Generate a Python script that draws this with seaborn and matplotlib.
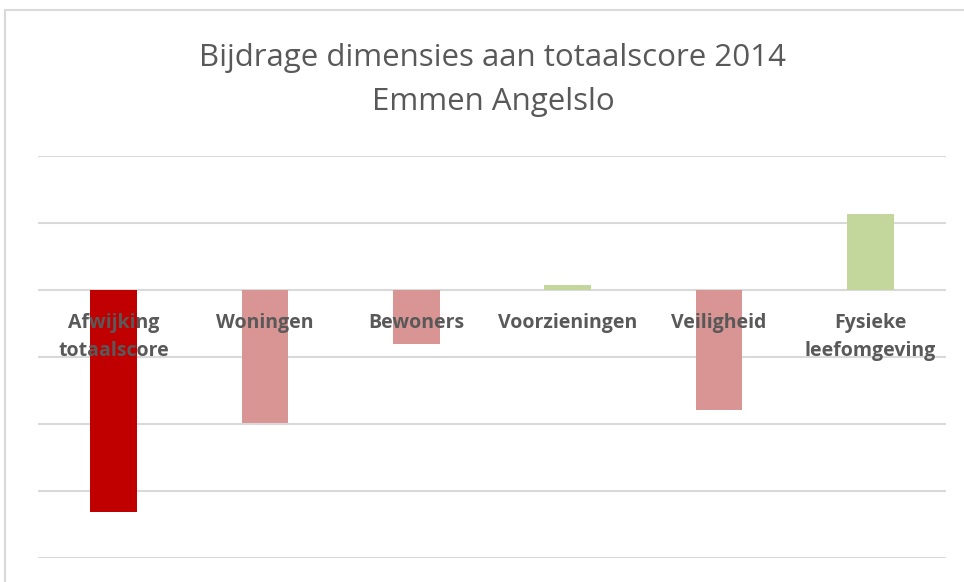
import matplotlib
matplotlib.use("Agg")
import matplotlib.pyplot as plt
from matplotlib.patches import Rectangle
import numpy as np
import pandas as pd
import seaborn as sns

# data
categories = ["Afwijking\ntotaalscore", "Woningen", "Bewoners", "Voorzieningen",
              "Veiligheid", "Fysieke\nleefomgeving"]
values = [-3.32, -1.98, -0.80, 0.08, -1.79, 1.14]
bar_colors = ["#C00000", "#D99594", "#D99594", "#C3D69B", "#D99594", "#C3D69B"]
title_lines = ["Bijdrage dimensies aan totaalscore 2014", "Emmen Angelslo"]
y_grid = [-4, -3, -2, -1, 0, 1, 2]

TEXT_GREY = "#595959"

sns.set_theme(style="white")
plt.rcParams["font.family"] = ["Open Sans", "DejaVu Sans"]

fig = plt.figure(figsize=(9.64, 5.82), dpi=100)
ax = fig.add_axes([38 / 964, 1 - 558 / 582, 908 / 964, 402 / 582])

df = pd.DataFrame({"cat": categories, "val": values})
sns.barplot(data=df, x="cat", y="val", hue="cat", palette=bar_colors,
            legend=False, width=0.31, saturation=1, linewidth=0, ax=ax, zorder=3)

ax.set_ylim(y_grid[0], y_grid[-1])
ax.set_xlim(-0.5, len(categories) - 0.5)
for g in y_grid:
    ax.axhline(g, color="#D9D9D9", linewidth=1.5, zorder=1)

ax.set_xticks([])
ax.set_yticks([])
ax.set_xlabel("")
ax.set_ylabel("")
sns.despine(ax=ax, left=True, bottom=True)

# category labels sit just under the zero line
for i, lab in enumerate(categories):
    ax.text(i, -0.34, lab, ha="center", va="top", fontsize=14,
            fontweight="bold", color=TEXT_GREY, linespacing=1.55, zorder=4)

title_x = 493 / 964
fig.text(title_x, 1 - 58 / 582, title_lines[0], ha="center", va="center",
         fontsize=22.5, color=TEXT_GREY)
fig.text(title_x, 1 - 102 / 582, title_lines[1], ha="center", va="center",
         fontsize=22.5, color=TEXT_GREY)

# light chart frame
fig.patches.append(Rectangle((5 / 964, -0.05), 1.1, 1 - 10 / 582 + 0.05,
                             transform=fig.transFigure, fill=False,
                             edgecolor="#D9D9D9", linewidth=1.5))

fig.savefig("out.png", dpi=100)
